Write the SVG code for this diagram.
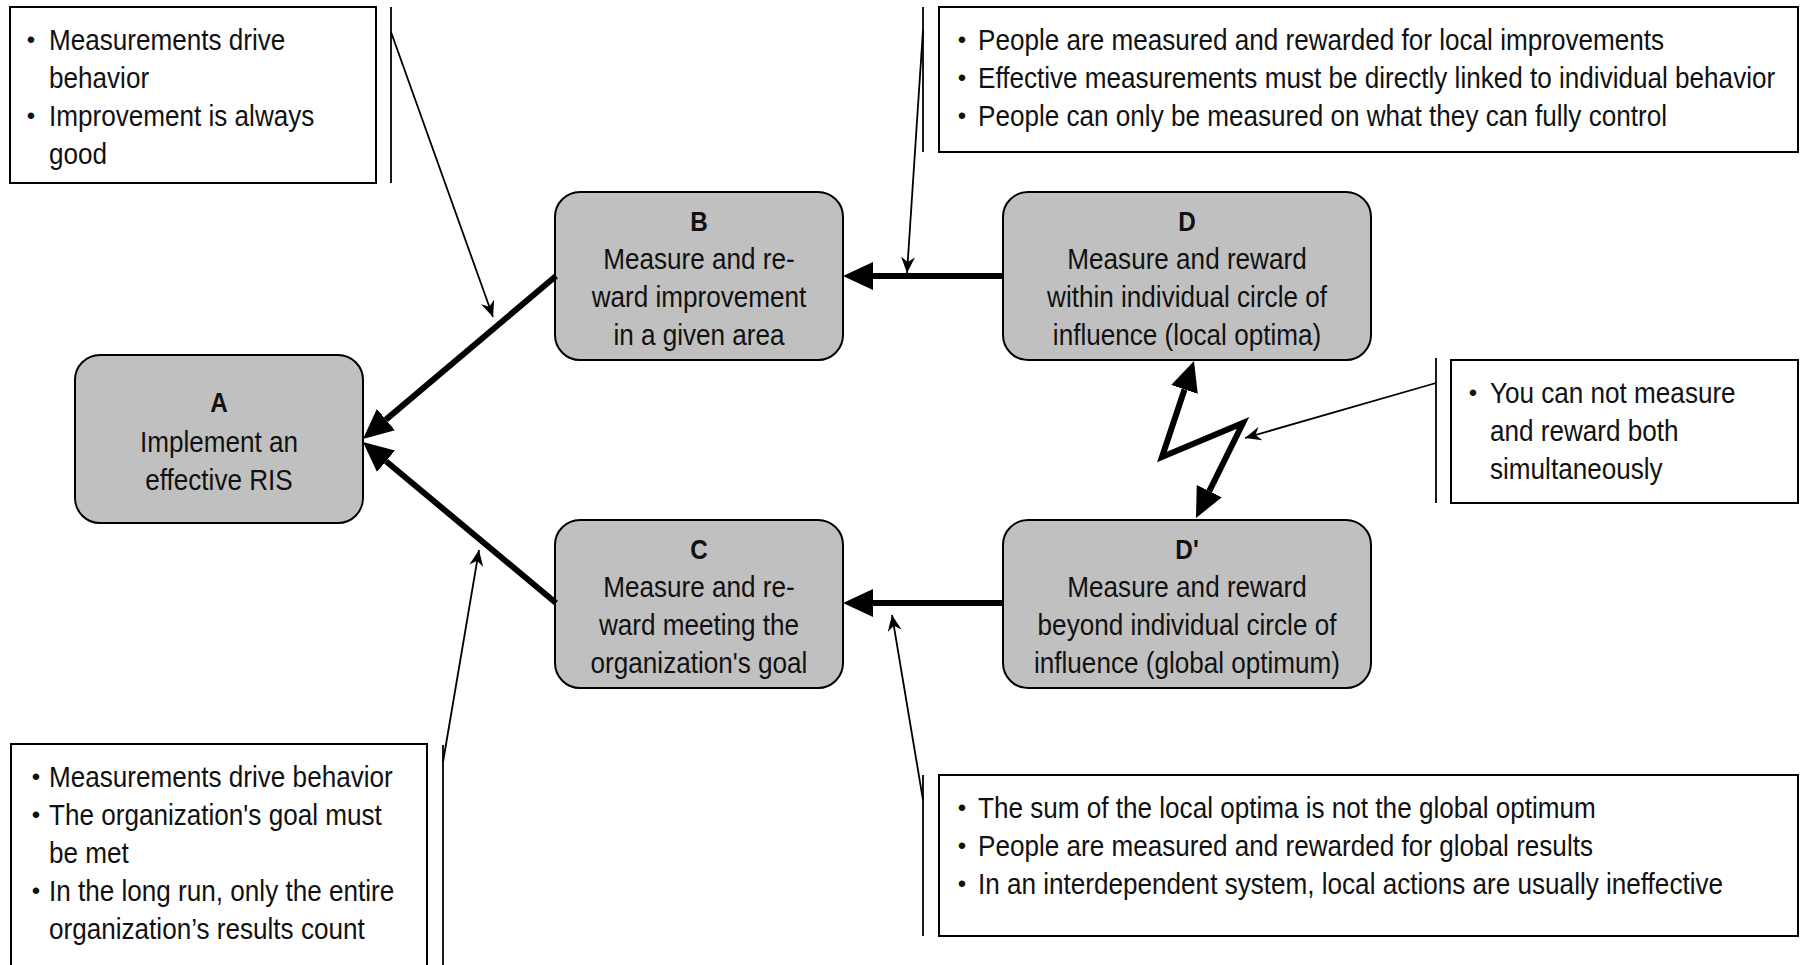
<svg xmlns="http://www.w3.org/2000/svg" width="1800" height="965" viewBox="0 0 1800 965">
  <style>
    .node rect { fill: #c0c0c0; stroke: #000; stroke-width: 2; }
    .note { fill: #fff; stroke: #000; stroke-width: 2; }
    .t { font-family: "Liberation Sans", Arial, sans-serif; font-size: 30px; fill: #111; }
    .lbl { font-family: "Liberation Sans", Arial, sans-serif; font-weight: bold; font-size: 27px; fill: #111; text-anchor: middle; }
    .c { text-anchor: middle; }
    .bul { font-family: "Liberation Sans", Arial, sans-serif; font-size: 24px; fill: #111; text-anchor: middle; }
    .thick { fill: none; stroke: #000; stroke-width: 6; }
    .thin { fill: none; stroke: #000; stroke-width: 1.8; }
  </style>
  <defs>
    <marker id="head" markerUnits="userSpaceOnUse" viewBox="0 0 30 28" refX="0" refY="14" markerWidth="30" markerHeight="28" orient="auto-start-reverse">
      <path d="M0,0 L30,14 L0,28 z" fill="#000"/>
    </marker>
    <marker id="pointer" markerUnits="userSpaceOnUse" viewBox="0 0 16 14" refX="16" refY="7" markerWidth="16" markerHeight="14" orient="auto">
      <path d="M16,7 L0,0 L5,7 L0,14 z" fill="#000"/>
    </marker>
  </defs>

  <!-- main nodes -->
  <g id="node-A" class="node">
    <rect x="75" y="355" width="288" height="168" rx="25"/>
    <text class="lbl" transform="translate(219,412) scale(0.9,1)">A</text>
    <text class="t c" transform="translate(219,452) scale(0.87,1)"><tspan x="0" y="0">Implement an</tspan><tspan x="0" y="38">effective RIS</tspan></text>
  </g>
  <g id="node-B" class="node">
    <rect x="555" y="192" width="288" height="168" rx="25"/>
    <text class="lbl" transform="translate(699,231) scale(0.9,1)">B</text>
    <text class="t c" transform="translate(699,269) scale(0.87,1)"><tspan x="0" y="0">Measure and re-</tspan><tspan x="0" y="38">ward improvement</tspan><tspan x="0" y="76">in a given area</tspan></text>
  </g>
  <g id="node-C" class="node">
    <rect x="555" y="520" width="288" height="168" rx="25"/>
    <text class="lbl" transform="translate(699,559) scale(0.9,1)">C</text>
    <text class="t c" transform="translate(699,597) scale(0.87,1)"><tspan x="0" y="0">Measure and re-</tspan><tspan x="0" y="38">ward meeting the</tspan><tspan x="0" y="76">organization's goal</tspan></text>
  </g>
  <g id="node-D" class="node">
    <rect x="1003" y="192" width="368" height="168" rx="25"/>
    <text class="lbl" transform="translate(1187,231) scale(0.9,1)">D</text>
    <text class="t c" transform="translate(1187,269) scale(0.87,1)"><tspan x="0" y="0">Measure and reward</tspan><tspan x="0" y="38">within individual circle of</tspan><tspan x="0" y="76">influence (local optima)</tspan></text>
  </g>
  <g id="node-Dp" class="node">
    <rect x="1003" y="520" width="368" height="168" rx="25"/>
    <text class="lbl" transform="translate(1187,559) scale(0.9,1)">D'</text>
    <text class="t c" transform="translate(1187,597) scale(0.87,1)"><tspan x="0" y="0">Measure and reward</tspan><tspan x="0" y="38">beyond individual circle of</tspan><tspan x="0" y="76">influence (global optimum)</tspan></text>
  </g>

  <!-- assumption notes -->
  <g id="note-AB">
    <rect class="note" x="10" y="7" width="366" height="176"/>
    <text class="bul" x="31" y="48">•</text>
    <text class="bul" x="31" y="124">•</text>
    <text class="t" transform="translate(49,50) scale(0.87,1)"><tspan x="0" y="0">Measurements drive</tspan><tspan x="0" y="38">behavior</tspan><tspan x="0" y="76">Improvement is always</tspan><tspan x="0" y="114">good</tspan></text>
  </g>
  <g id="note-BD">
    <rect class="note" x="939" y="7" width="859" height="145"/>
    <text class="bul" x="962" y="48">•</text>
    <text class="bul" x="962" y="86">•</text>
    <text class="bul" x="962" y="124">•</text>
    <text class="t" transform="translate(978,50) scale(0.87,1)"><tspan x="0" y="0">People are measured and rewarded for local improvements</tspan><tspan x="0" y="38">Effective measurements must be directly linked to individual behavior</tspan><tspan x="0" y="76">People can only be measured on what they can fully control</tspan></text>
  </g>
  <g id="note-DDp">
    <rect class="note" x="1451" y="360" width="347" height="143"/>
    <text class="bul" x="1473" y="401">•</text>
    <text class="t" transform="translate(1490,403) scale(0.87,1)"><tspan x="0" y="0">You can not measure</tspan><tspan x="0" y="38">and reward both</tspan><tspan x="0" y="76">simultaneously</tspan></text>
  </g>
  <g id="note-AC">
    <rect class="note" x="11" y="744" width="416" height="230"/>
    <text class="bul" x="36" y="785">•</text>
    <text class="bul" x="36" y="823">•</text>
    <text class="bul" x="36" y="899">•</text>
    <text class="t" transform="translate(49,787) scale(0.87,1)"><tspan x="0" y="0">Measurements drive behavior</tspan><tspan x="0" y="38">The organization's goal must</tspan><tspan x="0" y="76">be met</tspan><tspan x="0" y="114">In the long run, only the entire</tspan><tspan x="0" y="152">organization’s results count</tspan></text>
  </g>
  <g id="note-CDp">
    <rect class="note" x="939" y="775" width="859" height="161"/>
    <text class="bul" x="962" y="816">•</text>
    <text class="bul" x="962" y="854">•</text>
    <text class="bul" x="962" y="892">•</text>
    <text class="t" transform="translate(978,818) scale(0.87,1)"><tspan x="0" y="0">The sum of the local optima is not the global optimum</tspan><tspan x="0" y="38">People are measured and rewarded for global results</tspan><tspan x="0" y="76">In an interdependent system, local actions are usually ineffective</tspan></text>
  </g>

  <!-- connectors -->
  <g id="connectors">
    <path class="thick" d="M556,276 L385.9,419.6" marker-end="url(#head)"/>
    <path class="thick" d="M556,603 L386,461.2" marker-end="url(#head)"/>
    <path class="thick" d="M1003,276 L873,276" marker-end="url(#head)"/>
    <path class="thick" d="M1003,603 L873,603" marker-end="url(#head)"/>
    <path class="thick" d="M1184.5,389.5 L1162,457 L1243,423 L1209.3,491.1" stroke-linejoin="miter" marker-start="url(#head)" marker-end="url(#head)"/>

    <!-- note brackets and pointers -->
    <path class="thin" d="M391,7 V183"/>
    <path class="thin" d="M391,32 L493,317" marker-end="url(#pointer)"/>
    <path class="thin" d="M923,7 V152"/>
    <path class="thin" d="M923,30 L907,273" marker-end="url(#pointer)"/>
    <path class="thin" d="M1436,358 V503"/>
    <path class="thin" d="M1436,383 L1245,438" marker-end="url(#pointer)"/>
    <path class="thin" d="M443,745 V965"/>
    <path class="thin" d="M443,762 L479,550" marker-end="url(#pointer)"/>
    <path class="thin" d="M923,775 V936"/>
    <path class="thin" d="M923,800 L892,615" marker-end="url(#pointer)"/>
  </g>
</svg>
